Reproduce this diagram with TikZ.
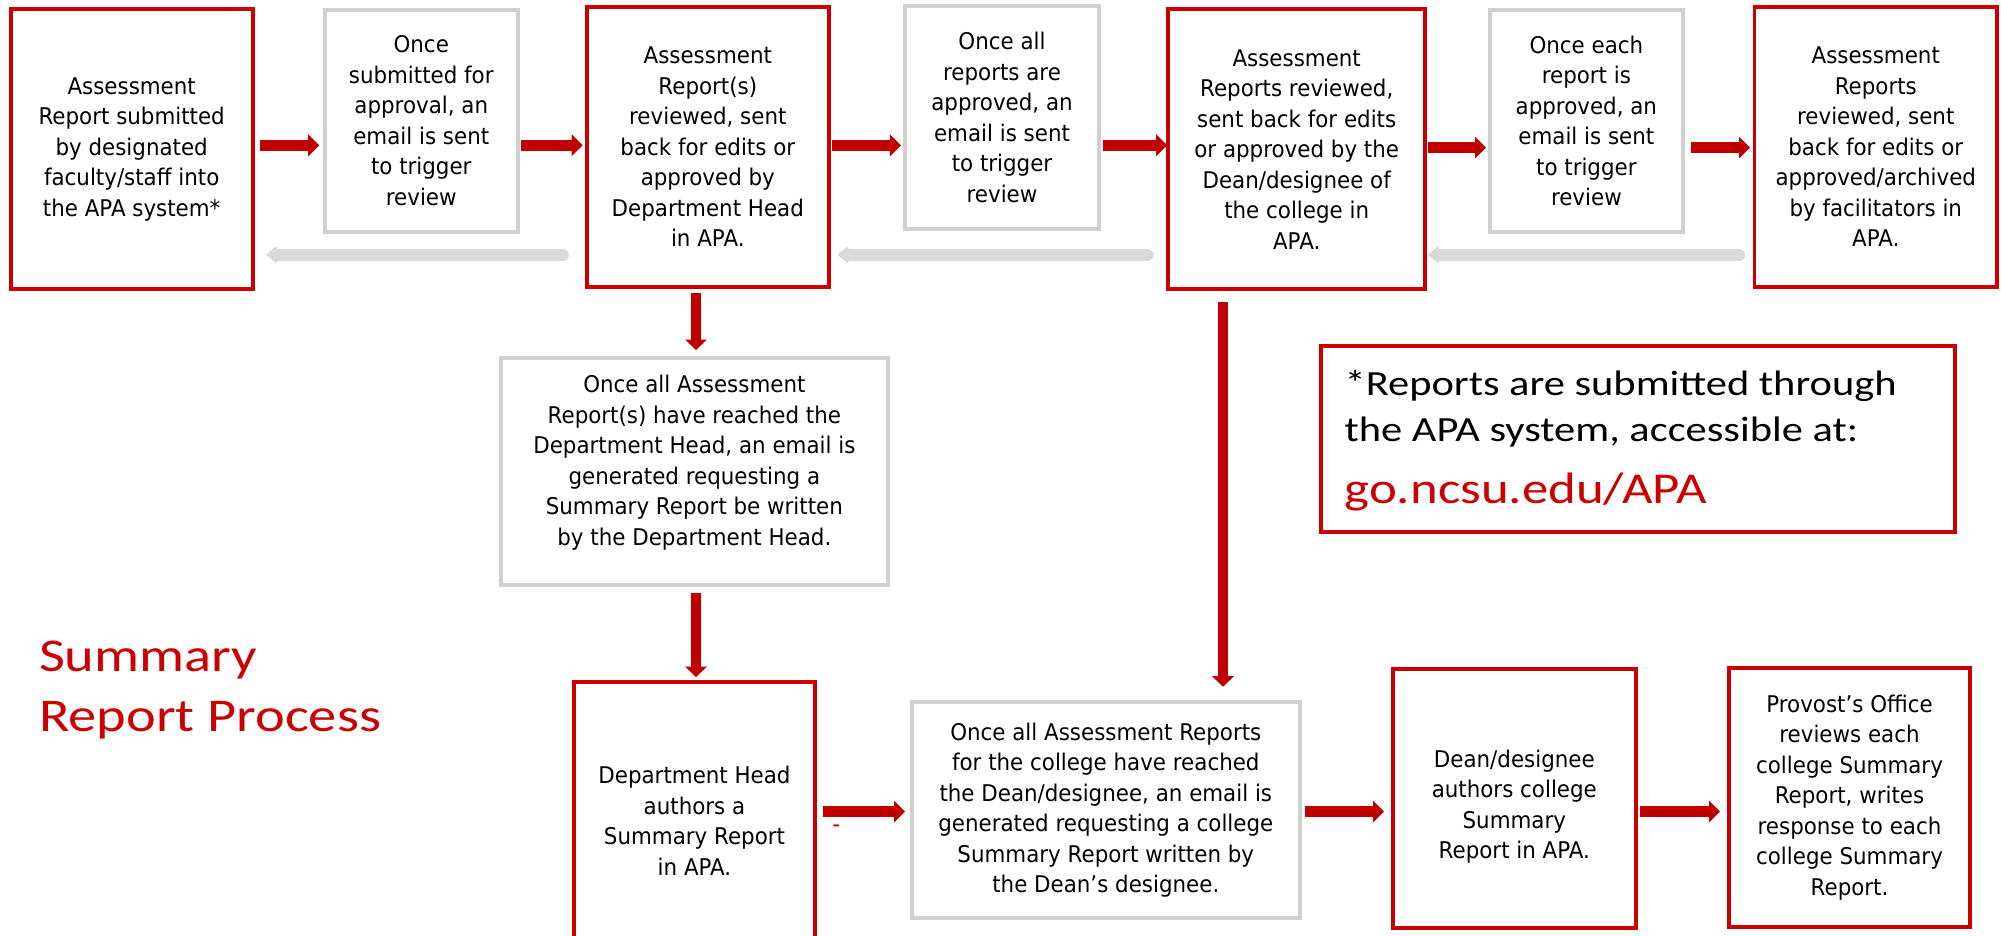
\documentclass[tikz,border=0pt]{standalone}
\usepackage{fontspec}
\setmainfont{DejaVu Sans}
\newfontfamily\boxfont[FakeStretch=0.93]{DejaVu Sans}
\newfontfamily\calfont[FakeStretch=1.2]{Carlito}
\usetikzlibrary{arrows.meta}
\definecolor{arrred}{RGB}{192,0,0}
\definecolor{boxred}{RGB}{204,0,0}
\definecolor{boxgray}{RGB}{208,208,208}
\definecolor{arrgray}{RGB}{217,217,217}
\definecolor{titlered}{RGB}{204,0,0}
\begin{document}
\begin{tikzpicture}[x=1pt,y=-1pt,
  boxtext/.style={font=\boxfont\fontsize{23}{30.5}\selectfont, align=center, text=black},
  redbox/.style={draw=boxred, line width=3.8pt, inner sep=0pt, outer sep=0pt, boxtext},
  graybox/.style={draw=boxgray, line width=4pt, inner sep=0pt, outer sep=0pt, boxtext},
  plaintext/.style={inner sep=0pt, outer sep=0pt, boxtext},
  redarrow/.style={draw=arrred, line width=10.5pt, -{Triangle[length=11pt,width=22pt,line width=0pt]}},
  downarrow/.style={draw=arrred, line width=9.5pt, -{Triangle[length=10.5pt,width=22pt,line width=0pt]}},
  grayarrow/.style={draw=arrgray, line width=12.5pt, line cap=round, -{Triangle[length=11pt,width=18pt,line width=2pt,round]}},
  calline/.style={anchor=base west, inner sep=0pt, outer sep=0pt},
]
\path[use as bounding box] (0,0) rectangle (2001,936);
\fill[white] (0,0) rectangle (2001,936);
\clip (0,0) rectangle (2001,936);

% top row
\node[redbox, minimum width=242, minimum height=279.7] (b1) at (131.7,149.2)
  {Assessment\\Report submitted\\by designated\\faculty/staff into\\the APA system*};
\node[graybox, minimum width=193.3, minimum height=221.7] (b2) at (421.25,120.85)
  {Once\\submitted for\\approval, an\\email is sent\\to trigger\\review};
\node[redbox, minimum width=241.6, minimum height=279.4] (b3) at (707.8,147)
  {Assessment\\Report(s)\\reviewed, sent\\back for edits or\\approved by\\Department Head\\in APA.};
\node[graybox, minimum width=193.3, minimum height=223] (b4) at (1002,117.5)
  {Once all\\reports are\\approved, an\\email is sent\\to trigger\\review};
\node[redbox, minimum width=256.7, minimum height=280] (b5) at (1296.7,149.3)
  {Assessment\\Reports reviewed,\\sent back for edits\\or approved by the\\Dean/designee of\\the college in\\APA.};
\node[graybox, minimum width=193.3, minimum height=221.7] (b6) at (1586.35,120.85)
  {Once each\\report is\\approved, an\\email is sent\\to trigger\\review};
\node[redbox, minimum width=242.5, minimum height=279.4] (b7) at (1875.75,147)
  {Assessment\\Reports\\reviewed, sent\\back for edits or\\approved/archived\\by facilitators in\\APA.};

% middle
\node[graybox, minimum width=387.3, minimum height=227] (b8) at (694.35,471.5) {};
\node[plaintext] (t8) at (694.35,462.5)
  {Once all Assessment\\Report(s) have reached the\\Department Head, an email is\\generated requesting a\\Summary Report be written\\by the Department Head.};

\node[draw=boxred, line width=3.8pt, minimum width=634, minimum height=185.7, outer sep=0pt] (note) at (1638,438.8) {};
\node[calline, font=\calfont\fontsize{35.4}{42}\selectfont] (n1) at (1344.6,395) {*Reports are submitted through};
\node[calline, font=\calfont\fontsize{35.4}{42}\selectfont] (n2) at (1344.6,441.7) {the APA system, accessible at:};
\node[calline, font=\calfont\fontsize{44}{50}\selectfont, text=titlered] (n3) at (1344.6,503.3) {go.ncsu.edu/APA};

\node[calline, font=\calfont\fontsize{47}{56}\selectfont, text=titlered] (title1) at (39,671.7) {Summary};
\node[calline, font=\calfont\fontsize{47}{56}\selectfont, text=titlered] (title2) at (39,731.7) {Report Process};

% bottom row
\node[redbox, minimum width=241, minimum height=278.3] (b9) at (694.5,820.85)
  {Department Head\\authors a\\Summary Report\\in APA.};
\node[graybox, minimum width=387.6, minimum height=216.6] (b10) at (1105.8,810)
  {Once all Assessment Reports\\for the college have reached\\the Dean/designee, an email is\\generated requesting a college\\Summary Report written by\\the Dean’s designee.};
\node[redbox, minimum width=242.6, minimum height=259] (b11) at (1514.3,798.5) {};
\node[plaintext] (t11) at (1514.3,806.7)
  {Dean/designee\\authors college\\Summary\\Report in APA.};
\node[redbox, minimum width=241, minimum height=259] (b12) at (1849.5,797.2)
  {Provost’s Office\\reviews each\\college Summary\\Report, writes\\response to each\\college Summary\\Report.};

\node[inner sep=0pt, text=boxred, font=\boxfont\fontsize{24}{24}\selectfont] (dash) at (836.5,828.5) {-};

% helper coordinates
\coordinate (rowA) at (0,145.3);
\coordinate (rowA2) at (0,147.6);
\coordinate (rowB) at (0,254.8);
\coordinate (rowC) at (0,811.7);
\coordinate (colA) at (696,0);
\coordinate (colB) at (1223,0);

% forward arrows top row
\draw[redarrow] ([xshift=7.3pt]b1.east |- rowA) -- ([xshift=-5.4pt]b2.west |- rowA);
\draw[redarrow] ([xshift=3.5pt]b2.east |- rowA) -- ([xshift=-4.4pt]b3.west |- rowA);
\draw[redarrow] ([xshift=3.4pt]b3.east |- rowA) -- ([xshift=-4.4pt]b4.west |- rowA);
\draw[redarrow] ([xshift=4.3pt]b4.east |- rowA) -- ([xshift=-1.3pt]b5.west |- rowA);
\draw[redarrow] ([xshift=3pt]b5.east |- rowA2) -- ([xshift=-3.7pt]b6.west |- rowA2);
\draw[redarrow] ([xshift=8pt]b6.east |- rowA2) -- ([xshift=-4.5pt]b7.west |- rowA2);

% return arrows
\draw[grayarrow] ([xshift=-24.3pt]b3.west |- rowB) -- ([xshift=14pt]b1.east |- rowB);
\draw[grayarrow] ([xshift=-21pt]b5.west |- rowB) -- ([xshift=9.4pt]b3.east |- rowB);
\draw[grayarrow] ([xshift=-15.7pt]b7.west |- rowB) -- ([xshift=3.3pt]b5.east |- rowB);

% down arrows
\draw[downarrow] ([yshift=-6.3pt]b3.south -| colA) -- ([yshift=8pt]b8.north -| colA);
\draw[downarrow] ([yshift=-8pt]b8.south -| colA) -- ([yshift=4.7pt]b9.north -| colA);
\draw[downarrow] ([yshift=-12.4pt]b5.south -| colB) -- ([yshift=15pt]b10.north -| colB);

% bottom row arrows
\draw[redarrow] ([xshift=8.3pt]b9.east |- rowC) -- ([xshift=-7pt]b10.west |- rowC);
\draw[redarrow] ([xshift=5.4pt]b10.east |- rowC) -- ([xshift=-9pt]b11.west |- rowC);
\draw[redarrow] ([xshift=4.4pt]b11.east |- rowC) -- ([xshift=-9pt]b12.west |- rowC);
\end{tikzpicture}
\end{document}
